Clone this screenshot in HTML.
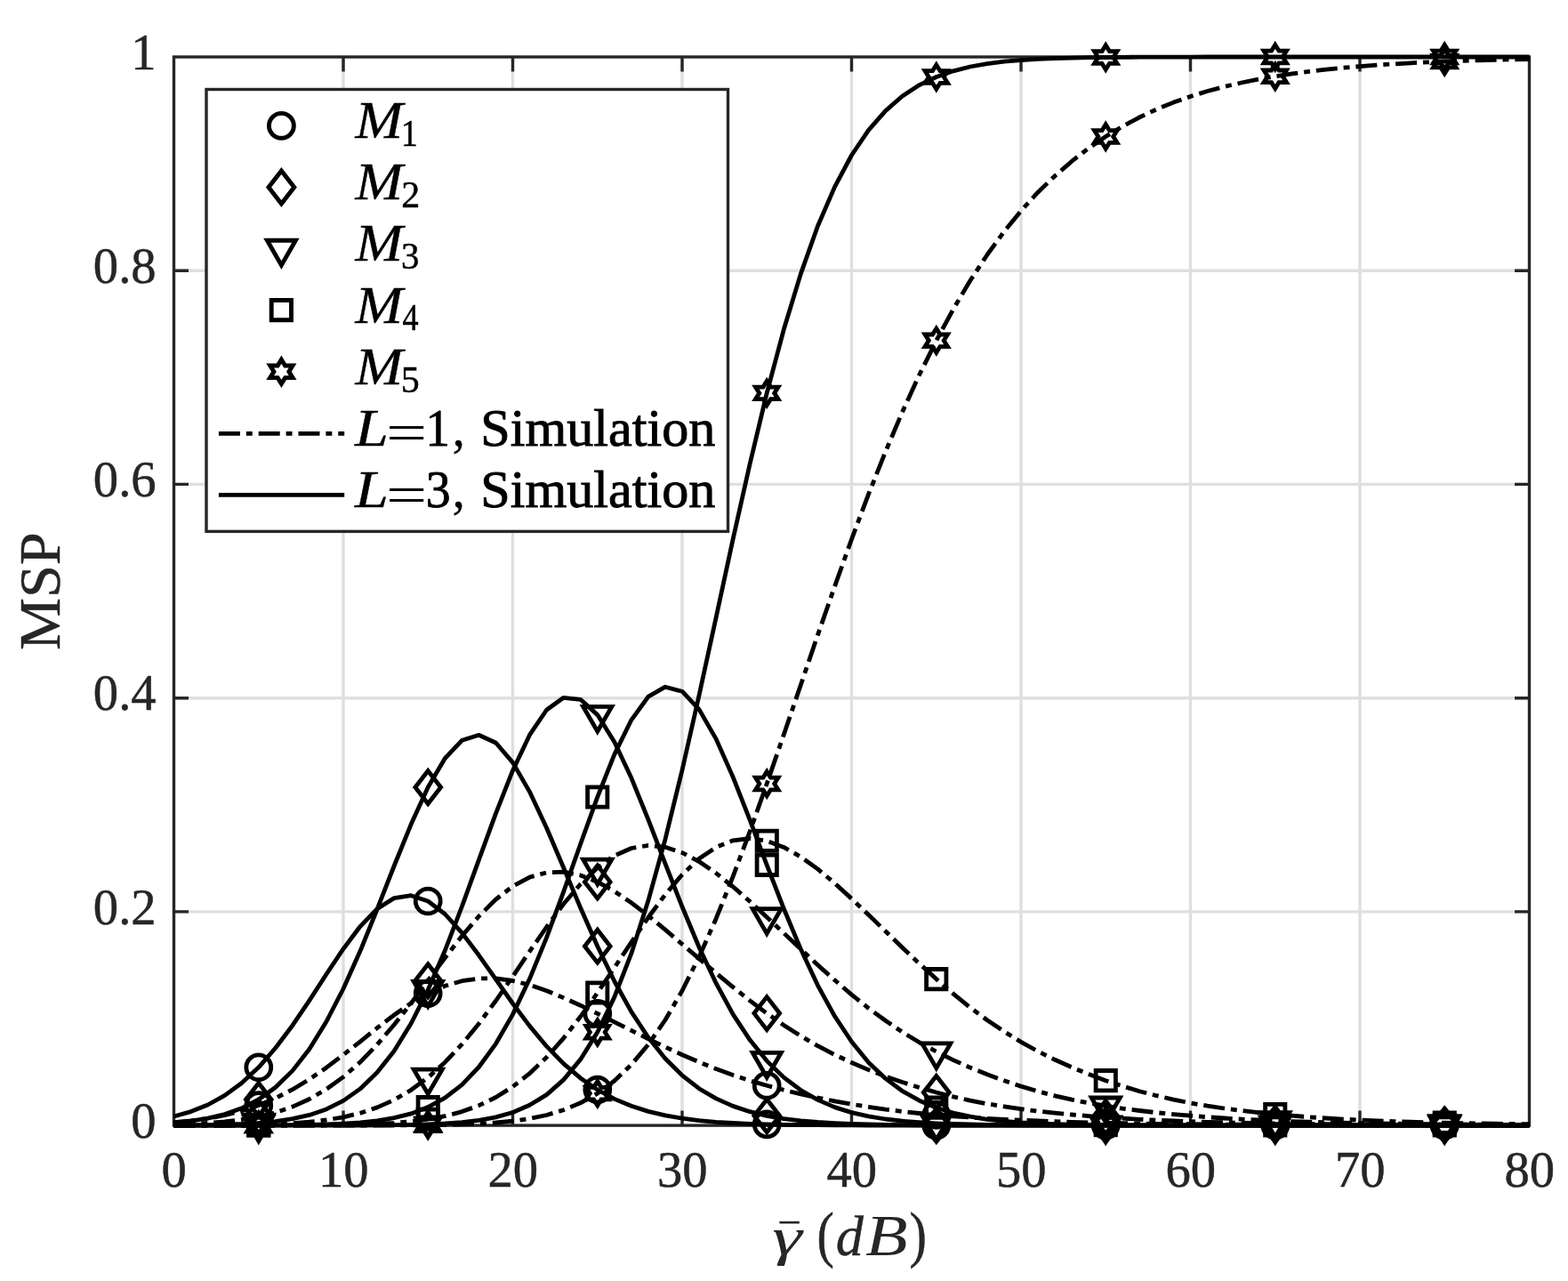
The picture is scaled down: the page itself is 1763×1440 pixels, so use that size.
<!DOCTYPE html>
<html lang="en"><head><meta charset="utf-8"><title>MSP versus average SNR</title>
<style>html,body{margin:0;padding:0;background:#fff;overflow:hidden;}svg{display:block;}text{font-family:"Liberation Serif",serif;}</style></head><body>
<svg width="1763" height="1440" viewBox="0 0 1763 1440">
<rect x="0" y="0" width="1763" height="1440" fill="#fff"/>
<path d="M386.0 64.0V1265.1M576.5 64.0V1265.1M767.0 64.0V1265.1M957.5 64.0V1265.1M1148.0 64.0V1265.1M1338.5 64.0V1265.1M1529.0 64.0V1265.1M195.5 1024.9H1719.5M195.5 784.7H1719.5M195.5 544.4H1719.5M195.5 304.2H1719.5" fill="none" stroke="#dfdfdf" stroke-width="3.4"/>
<path d="M386.0 1265.1v-16.5M386.0 64.0v16.5M576.5 1265.1v-16.5M576.5 64.0v16.5M767.0 1265.1v-16.5M767.0 64.0v16.5M957.5 1265.1v-16.5M957.5 64.0v16.5M1148.0 1265.1v-16.5M1148.0 64.0v16.5M1338.5 1265.1v-16.5M1338.5 64.0v16.5M1529.0 1265.1v-16.5M1529.0 64.0v16.5M195.5 1024.9h16.5M1719.5 1024.9h-16.5M195.5 784.7h16.5M1719.5 784.7h-16.5M195.5 544.4h16.5M1719.5 544.4h-16.5M195.5 304.2h16.5M1719.5 304.2h-16.5" fill="none" stroke="#262626" stroke-width="3.4"/>
<rect x="195.5" y="64.0" width="1524.0" height="1201.1" fill="none" stroke="#262626" stroke-width="3.4"/>
<clipPath id="axclip"><rect x="193.8" y="61.0" width="1527.4" height="1207.1"/></clipPath>
<g fill="none" stroke="#000" stroke-linejoin="round" clip-path="url(#axclip)">
<polyline points="195.5,1255.0 214.6,1249.6 233.6,1242.0 252.7,1231.4 271.7,1217.5 290.8,1199.8 309.8,1178.0 328.9,1152.7 347.9,1124.6 366.9,1095.2 386.0,1066.7 405.1,1041.3 424.1,1021.6 443.1,1009.6 462.2,1006.7 481.2,1013.0 500.3,1027.5 519.4,1048.6 538.4,1073.8 557.5,1100.9 576.5,1128.0 595.5,1153.4 614.6,1176.2 633.6,1195.7 652.7,1211.9 671.8,1225.0 690.8,1235.4 709.9,1243.3 728.9,1249.4 748.0,1253.9 767.0,1257.2 786.0,1259.6 805.1,1261.3 824.1,1262.5 843.2,1263.3 862.2,1263.9 881.3,1264.3 900.4,1264.5 919.4,1264.7 938.5,1264.8 957.5,1264.9 976.5,1265.0 995.6,1265.0 1014.6,1265.1 1033.7,1265.1 1052.8,1265.1 1071.8,1265.1 1090.8,1265.1 1109.9,1265.1 1129.0,1265.1 1148.0,1265.1 1167.0,1265.1 1186.1,1265.1 1205.2,1265.1 1224.2,1265.1 1243.2,1265.1 1262.3,1265.1 1281.3,1265.1 1300.4,1265.1 1319.5,1265.1 1338.5,1265.1 1357.5,1265.1 1376.6,1265.1 1395.7,1265.1 1414.7,1265.1 1433.8,1265.1 1452.8,1265.1 1471.8,1265.1 1490.9,1265.1 1510.0,1265.1 1529.0,1265.1 1548.0,1265.1 1567.1,1265.1 1586.2,1265.1 1605.2,1265.1 1624.2,1265.1 1643.3,1265.1 1662.3,1265.1 1681.4,1265.1 1700.5,1265.1 1719.5,1265.1" stroke-width="4.8"/>
<polyline points="195.5,1262.1 214.6,1260.2 233.6,1257.2 252.7,1252.6 271.7,1245.8 290.8,1236.0 309.8,1222.2 328.9,1203.6 347.9,1179.2 366.9,1148.5 386.0,1111.5 405.1,1068.8 424.1,1022.0 443.1,973.5 462.2,926.6 481.2,885.0 500.3,852.5 519.4,832.3 538.4,826.3 557.5,835.0 576.5,857.1 595.5,890.1 614.6,930.7 633.6,975.3 652.7,1020.5 671.8,1063.7 690.8,1103.0 709.9,1137.4 728.9,1166.3 748.0,1190.0 767.0,1208.9 786.0,1223.7 805.1,1234.9 824.1,1243.4 843.2,1249.7 862.2,1254.3 881.3,1257.6 900.4,1259.9 919.4,1261.5 938.5,1262.6 957.5,1263.4 976.5,1264.0 995.6,1264.3 1014.6,1264.6 1033.7,1264.8 1052.8,1264.9 1071.8,1265.0 1090.8,1265.0 1109.9,1265.0 1129.0,1265.1 1148.0,1265.1 1167.0,1265.1 1186.1,1265.1 1205.2,1265.1 1224.2,1265.1 1243.2,1265.1 1262.3,1265.1 1281.3,1265.1 1300.4,1265.1 1319.5,1265.1 1338.5,1265.1 1357.5,1265.1 1376.6,1265.1 1395.7,1265.1 1414.7,1265.1 1433.8,1265.1 1452.8,1265.1 1471.8,1265.1 1490.9,1265.1 1510.0,1265.1 1529.0,1265.1 1548.0,1265.1 1567.1,1265.1 1586.2,1265.1 1605.2,1265.1 1624.2,1265.1 1643.3,1265.1 1662.3,1265.1 1681.4,1265.1 1700.5,1265.1 1719.5,1265.1" stroke-width="4.8"/>
<polyline points="195.5,1264.9 214.6,1264.8 233.6,1264.6 252.7,1264.1 271.7,1263.5 290.8,1262.4 309.8,1260.6 328.9,1257.7 347.9,1253.4 366.9,1246.9 386.0,1237.4 405.1,1223.9 424.1,1205.6 443.1,1181.4 462.2,1150.5 481.2,1112.8 500.3,1068.5 519.4,1019.0 538.4,966.6 557.5,914.4 576.5,866.2 595.5,826.2 614.6,798.0 633.6,784.3 652.7,786.3 671.8,803.6 690.8,834.1 709.9,874.6 728.9,921.4 748.0,970.8 767.0,1019.3 786.0,1064.7 805.1,1105.2 824.1,1140.1 843.2,1169.1 862.2,1192.6 881.3,1211.1 900.4,1225.5 919.4,1236.4 938.5,1244.6 957.5,1250.6 976.5,1254.9 995.6,1258.0 1014.6,1260.2 1033.7,1261.7 1052.8,1262.8 1071.8,1263.5 1090.8,1264.0 1109.9,1264.4 1129.0,1264.6 1148.0,1264.8 1167.0,1264.9 1186.1,1265.0 1205.2,1265.0 1224.2,1265.0 1243.2,1265.1 1262.3,1265.1 1281.3,1265.1 1300.4,1265.1 1319.5,1265.1 1338.5,1265.1 1357.5,1265.1 1376.6,1265.1 1395.7,1265.1 1414.7,1265.1 1433.8,1265.1 1452.8,1265.1 1471.8,1265.1 1490.9,1265.1 1510.0,1265.1 1529.0,1265.1 1548.0,1265.1 1567.1,1265.1 1586.2,1265.1 1605.2,1265.1 1624.2,1265.1 1643.3,1265.1 1662.3,1265.1 1681.4,1265.1 1700.5,1265.1 1719.5,1265.1" stroke-width="4.8"/>
<polyline points="195.5,1265.1 214.6,1265.1 233.6,1265.1 252.7,1265.1 271.7,1265.0 290.8,1265.0 309.8,1264.9 328.9,1264.7 347.9,1264.5 366.9,1264.0 386.0,1263.2 405.1,1262.0 424.1,1259.9 443.1,1256.7 462.2,1251.9 481.2,1244.6 500.3,1234.1 519.4,1219.4 538.4,1199.5 557.5,1173.3 576.5,1140.4 595.5,1100.3 614.6,1053.9 633.6,1002.6 652.7,948.8 671.8,895.9 690.8,848.1 709.9,809.3 728.9,783.2 748.0,772.2 767.0,777.2 786.0,797.4 805.1,830.6 824.1,873.4 843.2,921.8 862.2,972.3 881.3,1021.5 900.4,1067.1 919.4,1107.6 938.5,1142.3 957.5,1171.0 976.5,1194.2 995.6,1212.4 1014.6,1226.5 1033.7,1237.2 1052.8,1245.2 1071.8,1251.0 1090.8,1255.2 1109.9,1258.3 1129.0,1260.4 1148.0,1261.9 1167.0,1262.9 1186.1,1263.6 1205.2,1264.1 1224.2,1264.4 1243.2,1264.6 1262.3,1264.8 1281.3,1264.9 1300.4,1265.0 1319.5,1265.0 1338.5,1265.0 1357.5,1265.1 1376.6,1265.1 1395.7,1265.1 1414.7,1265.1 1433.8,1265.1 1452.8,1265.1 1471.8,1265.1 1490.9,1265.1 1510.0,1265.1 1529.0,1265.1 1548.0,1265.1 1567.1,1265.1 1586.2,1265.1 1605.2,1265.1 1624.2,1265.1 1643.3,1265.1 1662.3,1265.1 1681.4,1265.1 1700.5,1265.1 1719.5,1265.1" stroke-width="4.8"/>
<polyline points="195.5,1265.1 214.6,1265.1 233.6,1265.1 252.7,1265.1 271.7,1265.1 290.8,1265.1 309.8,1265.1 328.9,1265.1 347.9,1265.1 366.9,1265.1 386.0,1265.0 405.1,1265.0 424.1,1264.9 443.1,1264.7 462.2,1264.4 481.2,1263.9 500.3,1263.0 519.4,1261.6 538.4,1259.4 557.5,1255.9 576.5,1250.5 595.5,1242.3 614.6,1230.6 633.6,1213.9 652.7,1190.9 671.8,1160.3 690.8,1120.9 709.9,1071.7 728.9,1012.3 748.0,943.3 767.0,865.7 786.0,781.7 805.1,694.2 824.1,606.3 843.2,521.3 862.2,441.9 881.3,370.3 900.4,307.6 919.4,254.3 938.5,210.1 957.5,174.5 976.5,146.4 995.6,124.6 1014.6,108.0 1033.7,95.6 1052.8,86.5 1071.8,79.8 1090.8,75.0 1109.9,71.6 1129.0,69.2 1148.0,67.6 1167.0,66.4 1186.1,65.7 1205.2,65.1 1224.2,64.7 1243.2,64.5 1262.3,64.3 1281.3,64.2 1300.4,64.1 1319.5,64.1 1338.5,64.1 1357.5,64.0 1376.6,64.0 1395.7,64.0 1414.7,64.0 1433.8,64.0 1452.8,64.0 1471.8,64.0 1490.9,64.0 1510.0,64.0 1529.0,64.0 1548.0,64.0 1567.1,64.0 1586.2,64.0 1605.2,64.0 1624.2,64.0 1643.3,64.0 1662.3,64.0 1681.4,64.0 1700.5,64.0 1719.5,64.0" stroke-width="4.8"/>
<polyline points="195.5,1261.7 214.6,1259.9 233.6,1257.3 252.7,1253.7 271.7,1248.8 290.8,1242.5 309.8,1234.5 328.9,1224.7 347.9,1213.2 366.9,1200.2 386.0,1185.8 405.1,1170.8 424.1,1155.5 443.1,1141.0 462.2,1127.8 481.2,1116.8 500.3,1108.3 519.4,1102.7 538.4,1099.9 557.5,1099.9 576.5,1102.5 595.5,1107.2 614.6,1113.7 633.6,1121.6 652.7,1130.2 671.8,1139.4 690.8,1148.9 709.9,1158.4 728.9,1167.8 748.0,1176.9 767.0,1185.7 786.0,1193.9 805.1,1201.6 824.1,1208.5 843.2,1214.8 862.2,1220.3 881.3,1225.3 900.4,1229.9 919.4,1234.0 938.5,1237.8 957.5,1241.2 976.5,1244.3 995.6,1247.1 1014.6,1249.4 1033.7,1251.5 1052.8,1253.3 1071.8,1254.8 1090.8,1256.1 1109.9,1257.3 1129.0,1258.3 1148.0,1259.2 1167.0,1260.0 1186.1,1260.7 1205.2,1261.3 1224.2,1261.8 1243.2,1262.3 1262.3,1262.6 1281.3,1263.0 1300.4,1263.3 1319.5,1263.5 1338.5,1263.7 1357.5,1263.9 1376.6,1264.1 1395.7,1264.2 1414.7,1264.3 1433.8,1264.4 1452.8,1264.5 1471.8,1264.6 1490.9,1264.7 1510.0,1264.7 1529.0,1264.8 1548.0,1264.8 1567.1,1264.9 1586.2,1264.9 1605.2,1264.9 1624.2,1264.9 1643.3,1265.0 1662.3,1265.0 1681.4,1265.0 1700.5,1265.0 1719.5,1265.0" stroke-width="4.8" stroke-dasharray="24 6.93 6.93 6.93"/>
<polyline points="195.5,1264.1 214.6,1263.5 233.6,1262.5 252.7,1260.9 271.7,1258.6 290.8,1255.3 309.8,1250.6 328.9,1244.1 347.9,1235.5 366.9,1224.4 386.0,1210.6 405.1,1193.8 424.1,1174.2 443.1,1152.0 462.2,1127.7 481.2,1102.3 500.3,1076.8 519.4,1052.2 538.4,1030.0 557.5,1011.0 576.5,996.3 595.5,986.1 614.6,980.8 633.6,980.2 652.7,983.9 671.8,991.4 690.8,1001.9 709.9,1014.8 728.9,1029.4 748.0,1045.1 767.0,1061.3 786.0,1077.6 805.1,1093.8 824.1,1109.6 843.2,1124.8 862.2,1139.1 881.3,1152.4 900.4,1164.6 919.4,1175.7 938.5,1185.6 957.5,1194.5 976.5,1202.6 995.6,1209.9 1014.6,1216.5 1033.7,1222.5 1052.8,1228.0 1071.8,1232.8 1090.8,1237.1 1109.9,1240.8 1129.0,1243.9 1148.0,1246.7 1167.0,1249.1 1186.1,1251.1 1205.2,1253.0 1224.2,1254.6 1243.2,1256.0 1262.3,1257.2 1281.3,1258.3 1300.4,1259.2 1319.5,1260.0 1338.5,1260.7 1357.5,1261.3 1376.6,1261.8 1395.7,1262.2 1414.7,1262.6 1433.8,1263.0 1452.8,1263.3 1471.8,1263.5 1490.9,1263.7 1510.0,1263.9 1529.0,1264.1 1548.0,1264.2 1567.1,1264.3 1586.2,1264.4 1605.2,1264.5 1624.2,1264.6 1643.3,1264.7 1662.3,1264.7 1681.4,1264.8 1700.5,1264.8 1719.5,1264.9" stroke-width="4.8" stroke-dasharray="24 6.93 6.93 6.93"/>
<polyline points="195.5,1265.0 214.6,1265.0 233.6,1264.9 252.7,1264.8 271.7,1264.6 290.8,1264.2 309.8,1263.6 328.9,1262.6 347.9,1261.2 366.9,1259.0 386.0,1255.8 405.1,1251.2 424.1,1244.9 443.1,1236.4 462.2,1225.3 481.2,1211.3 500.3,1194.2 519.4,1173.9 538.4,1150.7 557.5,1125.0 576.5,1097.6 595.5,1069.5 614.6,1042.0 633.6,1016.3 652.7,993.8 671.8,975.4 690.8,961.9 709.9,953.5 728.9,950.4 748.0,952.2 767.0,958.5 786.0,968.5 805.1,981.5 824.1,996.7 843.2,1013.4 862.2,1031.0 881.3,1049.0 900.4,1067.0 919.4,1084.7 938.5,1101.8 957.5,1118.1 976.5,1133.3 995.6,1147.3 1014.6,1160.2 1033.7,1171.8 1052.8,1182.2 1071.8,1191.6 1090.8,1200.1 1109.9,1207.8 1129.0,1214.8 1148.0,1221.1 1167.0,1226.8 1186.1,1231.8 1205.2,1236.2 1224.2,1240.0 1243.2,1243.2 1262.3,1246.1 1281.3,1248.5 1300.4,1250.7 1319.5,1252.6 1338.5,1254.2 1357.5,1255.7 1376.6,1257.0 1395.7,1258.1 1414.7,1259.0 1433.8,1259.8 1452.8,1260.6 1471.8,1261.2 1490.9,1261.7 1510.0,1262.2 1529.0,1262.6 1548.0,1262.9 1567.1,1263.2 1586.2,1263.5 1605.2,1263.7 1624.2,1263.9 1643.3,1264.0 1662.3,1264.2 1681.4,1264.3 1700.5,1264.4 1719.5,1264.5" stroke-width="4.8" stroke-dasharray="24 6.93 6.93 6.93"/>
<polyline points="195.5,1265.1 214.6,1265.1 233.6,1265.1 252.7,1265.1 271.7,1265.1 290.8,1265.1 309.8,1265.0 328.9,1265.0 347.9,1264.9 366.9,1264.7 386.0,1264.5 405.1,1264.1 424.1,1263.4 443.1,1262.3 462.2,1260.7 481.2,1258.2 500.3,1254.7 519.4,1249.6 538.4,1242.7 557.5,1233.5 576.5,1221.6 595.5,1206.7 614.6,1188.5 633.6,1167.1 652.7,1142.8 671.8,1116.1 690.8,1087.8 709.9,1059.1 728.9,1031.3 748.0,1005.6 767.0,983.2 786.0,965.3 805.1,952.4 824.1,944.8 843.2,942.5 862.2,945.3 881.3,952.4 900.4,963.2 919.4,976.9 938.5,992.8 957.5,1010.2 976.5,1028.3 995.6,1046.8 1014.6,1065.2 1033.7,1083.2 1052.8,1100.6 1071.8,1117.1 1090.8,1132.5 1109.9,1146.7 1129.0,1159.6 1148.0,1171.3 1167.0,1181.8 1186.1,1191.3 1205.2,1199.8 1224.2,1207.6 1243.2,1214.7 1262.3,1221.0 1281.3,1226.7 1300.4,1231.7 1319.5,1236.1 1338.5,1239.9 1357.5,1243.2 1376.6,1246.0 1395.7,1248.5 1414.7,1250.7 1433.8,1252.6 1452.8,1254.2 1471.8,1255.7 1490.9,1257.0 1510.0,1258.1 1529.0,1259.0 1548.0,1259.8 1567.1,1260.6 1586.2,1261.2 1605.2,1261.7 1624.2,1262.2 1643.3,1262.6 1662.3,1262.9 1681.4,1263.2 1700.5,1263.5 1719.5,1263.7" stroke-width="4.8" stroke-dasharray="24 6.93 6.93 6.93"/>
<polyline points="195.5,1265.1 214.6,1265.1 233.6,1265.1 252.7,1265.1 271.7,1265.1 290.8,1265.1 309.8,1265.1 328.9,1265.1 347.9,1265.1 366.9,1265.1 386.0,1265.1 405.1,1265.1 424.1,1265.0 443.1,1265.0 462.2,1264.9 481.2,1264.7 500.3,1264.4 519.4,1263.9 538.4,1263.2 557.5,1262.0 576.5,1260.2 595.5,1257.5 614.6,1253.5 633.6,1247.8 652.7,1239.8 671.8,1229.1 690.8,1215.0 709.9,1196.8 728.9,1174.1 748.0,1146.5 767.0,1113.7 786.0,1075.7 805.1,1032.7 824.1,985.4 843.2,934.5 862.2,881.0 881.3,825.7 900.4,769.7 919.4,713.9 938.5,659.2 957.5,606.2 976.5,555.7 995.6,507.8 1014.6,463.0 1033.7,421.3 1052.8,382.8 1071.8,347.6 1090.8,315.5 1109.9,286.5 1129.0,260.3 1148.0,237.0 1167.0,216.2 1186.1,197.7 1205.2,181.2 1224.2,166.5 1243.2,153.5 1262.3,142.0 1281.3,131.8 1300.4,122.9 1319.5,115.1 1338.5,108.4 1357.5,102.5 1376.6,97.4 1395.7,93.0 1414.7,89.1 1433.8,85.8 1452.8,82.9 1471.8,80.3 1490.9,78.1 1510.0,76.2 1529.0,74.6 1548.0,73.1 1567.1,71.9 1586.2,70.8 1605.2,69.9 1624.2,69.1 1643.3,68.4 1662.3,67.8 1681.4,67.3 1700.5,66.8 1719.5,66.5" stroke-width="4.8" stroke-dasharray="24 6.93 6.93 6.93"/>
</g>
<g>
<circle cx="290.8" cy="1199.8" r="13.95" fill="none" stroke="#000" stroke-width="4.8" stroke-linejoin="miter" stroke-miterlimit="10"/>
<circle cx="481.2" cy="1013.0" r="13.95" fill="none" stroke="#000" stroke-width="4.8" stroke-linejoin="miter" stroke-miterlimit="10"/>
<circle cx="671.8" cy="1225.0" r="13.95" fill="none" stroke="#000" stroke-width="4.8" stroke-linejoin="miter" stroke-miterlimit="10"/>
<circle cx="862.2" cy="1263.9" r="13.95" fill="none" stroke="#000" stroke-width="4.8" stroke-linejoin="miter" stroke-miterlimit="10"/>
<circle cx="1052.8" cy="1265.1" r="13.95" fill="none" stroke="#000" stroke-width="4.8" stroke-linejoin="miter" stroke-miterlimit="10"/>
<circle cx="1243.2" cy="1265.1" r="13.95" fill="none" stroke="#000" stroke-width="4.8" stroke-linejoin="miter" stroke-miterlimit="10"/>
<circle cx="1433.8" cy="1265.1" r="13.95" fill="none" stroke="#000" stroke-width="4.8" stroke-linejoin="miter" stroke-miterlimit="10"/>
<circle cx="1624.2" cy="1265.1" r="13.95" fill="none" stroke="#000" stroke-width="4.8" stroke-linejoin="miter" stroke-miterlimit="10"/>
<polygon points="290.8,1217.5 305.1,1236.0 290.8,1254.5 276.4,1236.0" fill="none" stroke="#000" stroke-width="4.8" stroke-linejoin="miter" stroke-miterlimit="10"/>
<polygon points="481.2,866.5 495.6,885.0 481.2,903.5 466.9,885.0" fill="none" stroke="#000" stroke-width="4.8" stroke-linejoin="miter" stroke-miterlimit="10"/>
<polygon points="671.8,1045.2 686.1,1063.7 671.8,1082.2 657.4,1063.7" fill="none" stroke="#000" stroke-width="4.8" stroke-linejoin="miter" stroke-miterlimit="10"/>
<polygon points="862.2,1235.8 876.6,1254.3 862.2,1272.8 847.9,1254.3" fill="none" stroke="#000" stroke-width="4.8" stroke-linejoin="miter" stroke-miterlimit="10"/>
<polygon points="1052.8,1246.4 1067.2,1264.9 1052.8,1283.4 1038.3,1264.9" fill="none" stroke="#000" stroke-width="4.8" stroke-linejoin="miter" stroke-miterlimit="10"/>
<polygon points="1243.2,1246.6 1257.7,1265.1 1243.2,1283.6 1228.8,1265.1" fill="none" stroke="#000" stroke-width="4.8" stroke-linejoin="miter" stroke-miterlimit="10"/>
<polygon points="1433.8,1246.6 1448.2,1265.1 1433.8,1283.6 1419.3,1265.1" fill="none" stroke="#000" stroke-width="4.8" stroke-linejoin="miter" stroke-miterlimit="10"/>
<polygon points="1624.2,1246.6 1638.7,1265.1 1624.2,1283.6 1609.8,1265.1" fill="none" stroke="#000" stroke-width="4.8" stroke-linejoin="miter" stroke-miterlimit="10"/>
<polygon points="274.7,1253.1 306.8,1253.1 290.8,1280.9" fill="none" stroke="#000" stroke-width="4.8" stroke-linejoin="miter" stroke-miterlimit="10"/>
<polygon points="465.2,1103.5 497.3,1103.5 481.2,1131.3" fill="none" stroke="#000" stroke-width="4.8" stroke-linejoin="miter" stroke-miterlimit="10"/>
<polygon points="655.7,794.4 687.8,794.4 671.8,822.1" fill="none" stroke="#000" stroke-width="4.8" stroke-linejoin="miter" stroke-miterlimit="10"/>
<polygon points="846.2,1183.3 878.3,1183.3 862.2,1211.1" fill="none" stroke="#000" stroke-width="4.8" stroke-linejoin="miter" stroke-miterlimit="10"/>
<polygon points="1036.7,1253.6 1068.8,1253.6 1052.8,1281.3" fill="none" stroke="#000" stroke-width="4.8" stroke-linejoin="miter" stroke-miterlimit="10"/>
<polygon points="1227.2,1255.8 1259.3,1255.8 1243.2,1283.6" fill="none" stroke="#000" stroke-width="4.8" stroke-linejoin="miter" stroke-miterlimit="10"/>
<polygon points="1417.7,1255.8 1449.8,1255.8 1433.8,1283.6" fill="none" stroke="#000" stroke-width="4.8" stroke-linejoin="miter" stroke-miterlimit="10"/>
<polygon points="1608.2,1255.8 1640.3,1255.8 1624.2,1283.6" fill="none" stroke="#000" stroke-width="4.8" stroke-linejoin="miter" stroke-miterlimit="10"/>
<polygon points="279.6,1253.8 301.9,1253.8 301.9,1276.1 279.6,1276.1" fill="none" stroke="#000" stroke-width="4.8" stroke-linejoin="miter" stroke-miterlimit="10"/>
<polygon points="470.1,1233.5 492.4,1233.5 492.4,1255.8 470.1,1255.8" fill="none" stroke="#000" stroke-width="4.8" stroke-linejoin="miter" stroke-miterlimit="10"/>
<polygon points="660.6,884.8 682.9,884.8 682.9,907.1 660.6,907.1" fill="none" stroke="#000" stroke-width="4.8" stroke-linejoin="miter" stroke-miterlimit="10"/>
<polygon points="851.1,961.2 873.4,961.2 873.4,983.5 851.1,983.5" fill="none" stroke="#000" stroke-width="4.8" stroke-linejoin="miter" stroke-miterlimit="10"/>
<polygon points="1041.6,1234.0 1063.9,1234.0 1063.9,1256.3 1041.6,1256.3" fill="none" stroke="#000" stroke-width="4.8" stroke-linejoin="miter" stroke-miterlimit="10"/>
<polygon points="1232.1,1253.5 1254.4,1253.5 1254.4,1275.8 1232.1,1275.8" fill="none" stroke="#000" stroke-width="4.8" stroke-linejoin="miter" stroke-miterlimit="10"/>
<polygon points="1422.6,1253.9 1444.9,1253.9 1444.9,1276.2 1422.6,1276.2" fill="none" stroke="#000" stroke-width="4.8" stroke-linejoin="miter" stroke-miterlimit="10"/>
<polygon points="1613.1,1253.9 1635.4,1253.9 1635.4,1276.2 1613.1,1276.2" fill="none" stroke="#000" stroke-width="4.8" stroke-linejoin="miter" stroke-miterlimit="10"/>
<polygon points="290.8,1251.5 295.0,1258.3 303.5,1258.3 299.2,1265.1 303.5,1271.9 295.0,1271.9 290.8,1278.7 286.5,1271.9 278.0,1271.9 282.3,1265.1 278.0,1258.3 286.5,1258.3" fill="none" stroke="#000" stroke-width="4.8" stroke-linejoin="miter" stroke-miterlimit="10"/>
<polygon points="481.2,1250.3 485.5,1257.1 494.0,1257.1 489.7,1263.9 494.0,1270.7 485.5,1270.7 481.2,1277.5 477.0,1270.7 468.5,1270.7 472.8,1263.9 468.5,1257.1 477.0,1257.1" fill="none" stroke="#000" stroke-width="4.8" stroke-linejoin="miter" stroke-miterlimit="10"/>
<polygon points="671.8,1146.7 676.0,1153.5 684.5,1153.5 680.2,1160.3 684.5,1167.1 676.0,1167.1 671.8,1173.9 667.5,1167.1 659.0,1167.1 663.3,1160.3 659.0,1153.5 667.5,1153.5" fill="none" stroke="#000" stroke-width="4.8" stroke-linejoin="miter" stroke-miterlimit="10"/>
<polygon points="862.2,428.3 866.5,435.1 875.0,435.1 870.7,441.9 875.0,448.7 866.5,448.7 862.2,455.5 858.0,448.7 849.5,448.7 853.8,441.9 849.5,435.1 858.0,435.1" fill="none" stroke="#000" stroke-width="4.8" stroke-linejoin="miter" stroke-miterlimit="10"/>
<polygon points="1052.8,72.9 1057.0,79.7 1065.5,79.7 1061.2,86.5 1065.5,93.3 1057.0,93.3 1052.8,100.1 1048.5,93.3 1040.0,93.3 1044.3,86.5 1040.0,79.7 1048.5,79.7" fill="none" stroke="#000" stroke-width="4.8" stroke-linejoin="miter" stroke-miterlimit="10"/>
<polygon points="1243.2,50.9 1247.5,57.7 1256.0,57.7 1251.7,64.5 1256.0,71.3 1247.5,71.3 1243.2,78.1 1239.0,71.3 1230.5,71.3 1234.8,64.5 1230.5,57.7 1239.0,57.7" fill="none" stroke="#000" stroke-width="4.8" stroke-linejoin="miter" stroke-miterlimit="10"/>
<polygon points="1433.8,50.4 1438.0,57.2 1446.5,57.2 1442.2,64.0 1446.5,70.8 1438.0,70.8 1433.8,77.6 1429.5,70.8 1421.0,70.8 1425.3,64.0 1421.0,57.2 1429.5,57.2" fill="none" stroke="#000" stroke-width="4.8" stroke-linejoin="miter" stroke-miterlimit="10"/>
<polygon points="1624.2,50.4 1628.5,57.2 1637.0,57.2 1632.7,64.0 1637.0,70.8 1628.5,70.8 1624.2,77.6 1620.0,70.8 1611.5,70.8 1615.8,64.0 1611.5,57.2 1620.0,57.2" fill="none" stroke="#000" stroke-width="4.8" stroke-linejoin="miter" stroke-miterlimit="10"/>
<circle cx="290.8" cy="1242.5" r="13.95" fill="none" stroke="#000" stroke-width="4.8" stroke-linejoin="miter" stroke-miterlimit="10"/>
<circle cx="481.2" cy="1116.8" r="13.95" fill="none" stroke="#000" stroke-width="4.8" stroke-linejoin="miter" stroke-miterlimit="10"/>
<circle cx="671.8" cy="1139.4" r="13.95" fill="none" stroke="#000" stroke-width="4.8" stroke-linejoin="miter" stroke-miterlimit="10"/>
<circle cx="862.2" cy="1220.3" r="13.95" fill="none" stroke="#000" stroke-width="4.8" stroke-linejoin="miter" stroke-miterlimit="10"/>
<circle cx="1052.8" cy="1253.3" r="13.95" fill="none" stroke="#000" stroke-width="4.8" stroke-linejoin="miter" stroke-miterlimit="10"/>
<circle cx="1243.2" cy="1262.3" r="13.95" fill="none" stroke="#000" stroke-width="4.8" stroke-linejoin="miter" stroke-miterlimit="10"/>
<circle cx="1433.8" cy="1264.4" r="13.95" fill="none" stroke="#000" stroke-width="4.8" stroke-linejoin="miter" stroke-miterlimit="10"/>
<circle cx="1624.2" cy="1264.9" r="13.95" fill="none" stroke="#000" stroke-width="4.8" stroke-linejoin="miter" stroke-miterlimit="10"/>
<polygon points="290.8,1236.8 305.1,1255.3 290.8,1273.8 276.4,1255.3" fill="none" stroke="#000" stroke-width="4.8" stroke-linejoin="miter" stroke-miterlimit="10"/>
<polygon points="481.2,1083.8 495.6,1102.3 481.2,1120.8 466.9,1102.3" fill="none" stroke="#000" stroke-width="4.8" stroke-linejoin="miter" stroke-miterlimit="10"/>
<polygon points="671.8,972.9 686.1,991.4 671.8,1009.9 657.4,991.4" fill="none" stroke="#000" stroke-width="4.8" stroke-linejoin="miter" stroke-miterlimit="10"/>
<polygon points="862.2,1120.6 876.6,1139.1 862.2,1157.6 847.9,1139.1" fill="none" stroke="#000" stroke-width="4.8" stroke-linejoin="miter" stroke-miterlimit="10"/>
<polygon points="1052.8,1209.5 1067.2,1228.0 1052.8,1246.5 1038.3,1228.0" fill="none" stroke="#000" stroke-width="4.8" stroke-linejoin="miter" stroke-miterlimit="10"/>
<polygon points="1243.2,1237.5 1257.7,1256.0 1243.2,1274.5 1228.8,1256.0" fill="none" stroke="#000" stroke-width="4.8" stroke-linejoin="miter" stroke-miterlimit="10"/>
<polygon points="1433.8,1244.5 1448.2,1263.0 1433.8,1281.5 1419.3,1263.0" fill="none" stroke="#000" stroke-width="4.8" stroke-linejoin="miter" stroke-miterlimit="10"/>
<polygon points="1624.2,1246.1 1638.7,1264.6 1624.2,1283.1 1609.8,1264.6" fill="none" stroke="#000" stroke-width="4.8" stroke-linejoin="miter" stroke-miterlimit="10"/>
<polygon points="274.7,1254.9 306.8,1254.9 290.8,1282.7" fill="none" stroke="#000" stroke-width="4.8" stroke-linejoin="miter" stroke-miterlimit="10"/>
<polygon points="465.2,1202.1 497.3,1202.1 481.2,1229.8" fill="none" stroke="#000" stroke-width="4.8" stroke-linejoin="miter" stroke-miterlimit="10"/>
<polygon points="655.7,966.2 687.8,966.2 671.8,993.9" fill="none" stroke="#000" stroke-width="4.8" stroke-linejoin="miter" stroke-miterlimit="10"/>
<polygon points="846.2,1021.7 878.3,1021.7 862.2,1049.5" fill="none" stroke="#000" stroke-width="4.8" stroke-linejoin="miter" stroke-miterlimit="10"/>
<polygon points="1036.7,1172.9 1068.8,1172.9 1052.8,1200.7" fill="none" stroke="#000" stroke-width="4.8" stroke-linejoin="miter" stroke-miterlimit="10"/>
<polygon points="1227.2,1234.0 1259.3,1234.0 1243.2,1261.7" fill="none" stroke="#000" stroke-width="4.8" stroke-linejoin="miter" stroke-miterlimit="10"/>
<polygon points="1417.7,1250.6 1449.8,1250.6 1433.8,1278.3" fill="none" stroke="#000" stroke-width="4.8" stroke-linejoin="miter" stroke-miterlimit="10"/>
<polygon points="1608.2,1254.6 1640.3,1254.6 1624.2,1282.4" fill="none" stroke="#000" stroke-width="4.8" stroke-linejoin="miter" stroke-miterlimit="10"/>
<polygon points="279.6,1253.9 301.9,1253.9 301.9,1276.2 279.6,1276.2" fill="none" stroke="#000" stroke-width="4.8" stroke-linejoin="miter" stroke-miterlimit="10"/>
<polygon points="470.1,1247.1 492.4,1247.1 492.4,1269.4 470.1,1269.4" fill="none" stroke="#000" stroke-width="4.8" stroke-linejoin="miter" stroke-miterlimit="10"/>
<polygon points="660.6,1104.9 682.9,1104.9 682.9,1127.2 660.6,1127.2" fill="none" stroke="#000" stroke-width="4.8" stroke-linejoin="miter" stroke-miterlimit="10"/>
<polygon points="851.1,934.1 873.4,934.1 873.4,956.4 851.1,956.4" fill="none" stroke="#000" stroke-width="4.8" stroke-linejoin="miter" stroke-miterlimit="10"/>
<polygon points="1041.6,1089.5 1063.9,1089.5 1063.9,1111.8 1041.6,1111.8" fill="none" stroke="#000" stroke-width="4.8" stroke-linejoin="miter" stroke-miterlimit="10"/>
<polygon points="1232.1,1203.5 1254.4,1203.5 1254.4,1225.8 1232.1,1225.8" fill="none" stroke="#000" stroke-width="4.8" stroke-linejoin="miter" stroke-miterlimit="10"/>
<polygon points="1422.6,1241.4 1444.9,1241.4 1444.9,1263.7 1422.6,1263.7" fill="none" stroke="#000" stroke-width="4.8" stroke-linejoin="miter" stroke-miterlimit="10"/>
<polygon points="1613.1,1251.0 1635.4,1251.0 1635.4,1273.3 1613.1,1273.3" fill="none" stroke="#000" stroke-width="4.8" stroke-linejoin="miter" stroke-miterlimit="10"/>
<polygon points="290.8,1251.5 295.0,1258.3 303.5,1258.3 299.2,1265.1 303.5,1271.9 295.0,1271.9 290.8,1278.7 286.5,1271.9 278.0,1271.9 282.3,1265.1 278.0,1258.3 286.5,1258.3" fill="none" stroke="#000" stroke-width="4.8" stroke-linejoin="miter" stroke-miterlimit="10"/>
<polygon points="481.2,1251.1 485.5,1257.9 494.0,1257.9 489.7,1264.7 494.0,1271.5 485.5,1271.5 481.2,1278.3 477.0,1271.5 468.5,1271.5 472.8,1264.7 468.5,1257.9 477.0,1257.9" fill="none" stroke="#000" stroke-width="4.8" stroke-linejoin="miter" stroke-miterlimit="10"/>
<polygon points="671.8,1215.5 676.0,1222.3 684.5,1222.3 680.2,1229.1 684.5,1235.9 676.0,1235.9 671.8,1242.7 667.5,1235.9 659.0,1235.9 663.3,1229.1 659.0,1222.3 667.5,1222.3" fill="none" stroke="#000" stroke-width="4.8" stroke-linejoin="miter" stroke-miterlimit="10"/>
<polygon points="862.2,867.4 866.5,874.2 875.0,874.2 870.7,881.0 875.0,887.8 866.5,887.8 862.2,894.6 858.0,887.8 849.5,887.8 853.8,881.0 849.5,874.2 858.0,874.2" fill="none" stroke="#000" stroke-width="4.8" stroke-linejoin="miter" stroke-miterlimit="10"/>
<polygon points="1052.8,369.2 1057.0,376.0 1065.5,376.0 1061.2,382.8 1065.5,389.6 1057.0,389.6 1052.8,396.4 1048.5,389.6 1040.0,389.6 1044.3,382.8 1040.0,376.0 1048.5,376.0" fill="none" stroke="#000" stroke-width="4.8" stroke-linejoin="miter" stroke-miterlimit="10"/>
<polygon points="1243.2,139.9 1247.5,146.7 1256.0,146.7 1251.7,153.5 1256.0,160.3 1247.5,160.3 1243.2,167.1 1239.0,160.3 1230.5,160.3 1234.8,153.5 1230.5,146.7 1239.0,146.7" fill="none" stroke="#000" stroke-width="4.8" stroke-linejoin="miter" stroke-miterlimit="10"/>
<polygon points="1433.8,72.2 1438.0,79.0 1446.5,79.0 1442.2,85.8 1446.5,92.6 1438.0,92.6 1433.8,99.4 1429.5,92.6 1421.0,92.6 1425.3,85.8 1421.0,79.0 1429.5,79.0" fill="none" stroke="#000" stroke-width="4.8" stroke-linejoin="miter" stroke-miterlimit="10"/>
<polygon points="1624.2,55.5 1628.5,62.3 1637.0,62.3 1632.7,69.1 1637.0,75.9 1628.5,75.9 1624.2,82.7 1620.0,75.9 1611.5,75.9 1615.8,69.1 1611.5,62.3 1620.0,62.3" fill="none" stroke="#000" stroke-width="4.8" stroke-linejoin="miter" stroke-miterlimit="10"/>
</g>
<text transform="translate(195.70,1333.6) scale(0.985,1)" font-size="57.5" text-anchor="middle" fill="#262626" stroke="#262626" stroke-width="0.50">0</text>
<text transform="translate(386.20,1333.6) scale(0.985,1)" font-size="57.5" text-anchor="middle" fill="#262626" stroke="#262626" stroke-width="0.50">10</text>
<text transform="translate(576.70,1333.6) scale(0.985,1)" font-size="57.5" text-anchor="middle" fill="#262626" stroke="#262626" stroke-width="0.50">20</text>
<text transform="translate(767.20,1333.6) scale(0.985,1)" font-size="57.5" text-anchor="middle" fill="#262626" stroke="#262626" stroke-width="0.50">30</text>
<text transform="translate(957.70,1333.6) scale(0.985,1)" font-size="57.5" text-anchor="middle" fill="#262626" stroke="#262626" stroke-width="0.50">40</text>
<text transform="translate(1148.20,1333.6) scale(0.985,1)" font-size="57.5" text-anchor="middle" fill="#262626" stroke="#262626" stroke-width="0.50">50</text>
<text transform="translate(1338.70,1333.6) scale(0.985,1)" font-size="57.5" text-anchor="middle" fill="#262626" stroke="#262626" stroke-width="0.50">60</text>
<text transform="translate(1529.20,1333.6) scale(0.985,1)" font-size="57.5" text-anchor="middle" fill="#262626" stroke="#262626" stroke-width="0.50">70</text>
<text transform="translate(1719.70,1333.6) scale(0.985,1)" font-size="57.5" text-anchor="middle" fill="#262626" stroke="#262626" stroke-width="0.50">80</text>
<text transform="translate(175.6,1278.80) scale(0.985,1)" font-size="57.5" text-anchor="end" fill="#262626" stroke="#262626" stroke-width="0.50">0</text>
<text transform="translate(175.6,1038.58) scale(0.985,1)" font-size="57.5" text-anchor="end" fill="#262626" stroke="#262626" stroke-width="0.50">0.2</text>
<text transform="translate(175.6,798.36) scale(0.985,1)" font-size="57.5" text-anchor="end" fill="#262626" stroke="#262626" stroke-width="0.50">0.4</text>
<text transform="translate(175.6,558.14) scale(0.985,1)" font-size="57.5" text-anchor="end" fill="#262626" stroke="#262626" stroke-width="0.50">0.6</text>
<text transform="translate(175.6,317.92) scale(0.985,1)" font-size="57.5" text-anchor="end" fill="#262626" stroke="#262626" stroke-width="0.50">0.8</text>
<text transform="translate(175.6,77.70) scale(0.985,1)" font-size="57.5" text-anchor="end" fill="#262626" stroke="#262626" stroke-width="0.50">1</text>
<text transform="translate(66.9,731.09) rotate(-90) scale(1.0290,1)" font-size="64.5" fill="#262626" stroke="#262626" stroke-width="0.5">MSP</text>
<text transform="translate(868.20,1410.20) scale(1.4177,1)" font-size="60.0" font-style="italic" fill="#262626" stroke="#262626" stroke-width="0.00">γ</text>
<rect x="876.4" y="1372.9" width="22.4" height="2.6" fill="#262626"/>
<text transform="translate(918.54,1411.20) scale(0.8327,1)" font-size="69.7" fill="#262626" stroke="#262626" stroke-width="0.50">(</text>
<text transform="translate(939.64,1410.70) scale(0.9662,1)" font-size="64.3" font-style="italic" fill="#262626" stroke="#262626" stroke-width="0.40">d</text>
<text transform="translate(973.23,1410.70) scale(1.1659,1)" font-size="66.4" font-style="italic" fill="#262626" stroke="#262626" stroke-width="0.00">B</text>
<text transform="translate(1022.50,1411.20) scale(0.8388,1)" font-size="69.7" fill="#262626" stroke="#262626" stroke-width="0.50">)</text>
<rect x="232.0" y="100.5" width="586.5" height="496.9" fill="#fff" stroke="#262626" stroke-width="3.4"/>
<circle cx="316.4" cy="141.3" r="13.95" fill="none" stroke="#000" stroke-width="4.9" stroke-linejoin="miter" stroke-miterlimit="10"/>
<text transform="translate(399.54,155.20) scale(1.0747,1)" font-size="59.7" font-style="italic" fill="#000" stroke="#000" stroke-width="0.40">M</text>
<text transform="translate(450.78,164.00) scale(0.8991,1)" font-size="42.9" fill="#000" stroke="#000" stroke-width="0.50">1</text>
<polygon points="316.4,191.9 330.8,210.4 316.4,228.9 302.0,210.4" fill="none" stroke="#000" stroke-width="4.9" stroke-linejoin="miter" stroke-miterlimit="10"/>
<text transform="translate(399.54,224.33) scale(1.0747,1)" font-size="59.7" font-style="italic" fill="#000" stroke="#000" stroke-width="0.40">M</text>
<text transform="translate(451.26,233.13) scale(0.9790,1)" font-size="42.9" fill="#000" stroke="#000" stroke-width="0.50">2</text>
<polygon points="300.4,270.3 332.4,270.3 316.4,298.1" fill="none" stroke="#000" stroke-width="4.9" stroke-linejoin="miter" stroke-miterlimit="10"/>
<text transform="translate(399.54,293.46) scale(1.0747,1)" font-size="59.7" font-style="italic" fill="#000" stroke="#000" stroke-width="0.40">M</text>
<text transform="translate(451.10,302.26) scale(0.9551,1)" font-size="42.9" fill="#000" stroke="#000" stroke-width="0.50">3</text>
<polygon points="305.2,337.5 327.5,337.5 327.5,359.8 305.2,359.8" fill="none" stroke="#000" stroke-width="4.9" stroke-linejoin="miter" stroke-miterlimit="10"/>
<text transform="translate(399.54,362.59) scale(1.0747,1)" font-size="59.7" font-style="italic" fill="#000" stroke="#000" stroke-width="0.40">M</text>
<text transform="translate(452.43,371.39) scale(0.8422,1)" font-size="42.9" fill="#000" stroke="#000" stroke-width="0.50">4</text>
<polygon points="316.4,404.2 320.6,411.0 329.1,411.0 324.9,417.8 329.1,424.6 320.6,424.6 316.4,431.4 312.2,424.6 303.7,424.6 307.9,417.8 303.7,411.0 312.2,411.0" fill="none" stroke="#000" stroke-width="4.9" stroke-linejoin="miter" stroke-miterlimit="10"/>
<text transform="translate(399.54,431.72) scale(1.0747,1)" font-size="59.7" font-style="italic" fill="#000" stroke="#000" stroke-width="0.40">M</text>
<text transform="translate(450.63,440.52) scale(0.9790,1)" font-size="42.9" fill="#000" stroke="#000" stroke-width="0.50">5</text>
<line x1="245.9" y1="487.4" x2="387.2" y2="487.4" stroke="#000" stroke-width="4.9" stroke-dasharray="24 6.93 6.93 6.93"/>
<line x1="245.9" y1="556.4" x2="387.2" y2="556.4" stroke="#000" stroke-width="4.9"/>
<text transform="translate(398.98,500.90) scale(1.1441,1)" font-size="59.5" font-style="italic" fill="#000" stroke="#000" stroke-width="0.40">L</text>
<text transform="translate(433.90,506.40) scale(1.3887,1)" font-size="59.0" fill="#000" stroke="#000" stroke-width="0.00">=</text>
<text transform="translate(478.49,500.90) scale(0.9249,1)" font-size="59.0" fill="#000" stroke="#000" stroke-width="0.80">1</text>
<text transform="translate(508.82,500.90) scale(0.9468,1)" font-size="59.0" fill="#000" stroke="#000" stroke-width="0.50">,</text>
<text transform="translate(540.24,500.90) scale(1.0201,1)" font-size="59.0" fill="#000" stroke="#000" stroke-width="0.90">Simulation</text>
<text transform="translate(398.98,570.00) scale(1.1441,1)" font-size="59.5" font-style="italic" fill="#000" stroke="#000" stroke-width="0.40">L</text>
<text transform="translate(433.90,575.50) scale(1.3887,1)" font-size="59.0" fill="#000" stroke="#000" stroke-width="0.00">=</text>
<text transform="translate(478.71,570.00) scale(0.9467,1)" font-size="59.0" fill="#000" stroke="#000" stroke-width="0.80">3</text>
<text transform="translate(508.82,570.00) scale(0.9468,1)" font-size="59.0" fill="#000" stroke="#000" stroke-width="0.50">,</text>
<text transform="translate(540.24,570.00) scale(1.0201,1)" font-size="59.0" fill="#000" stroke="#000" stroke-width="0.90">Simulation</text>
</svg></body></html>
